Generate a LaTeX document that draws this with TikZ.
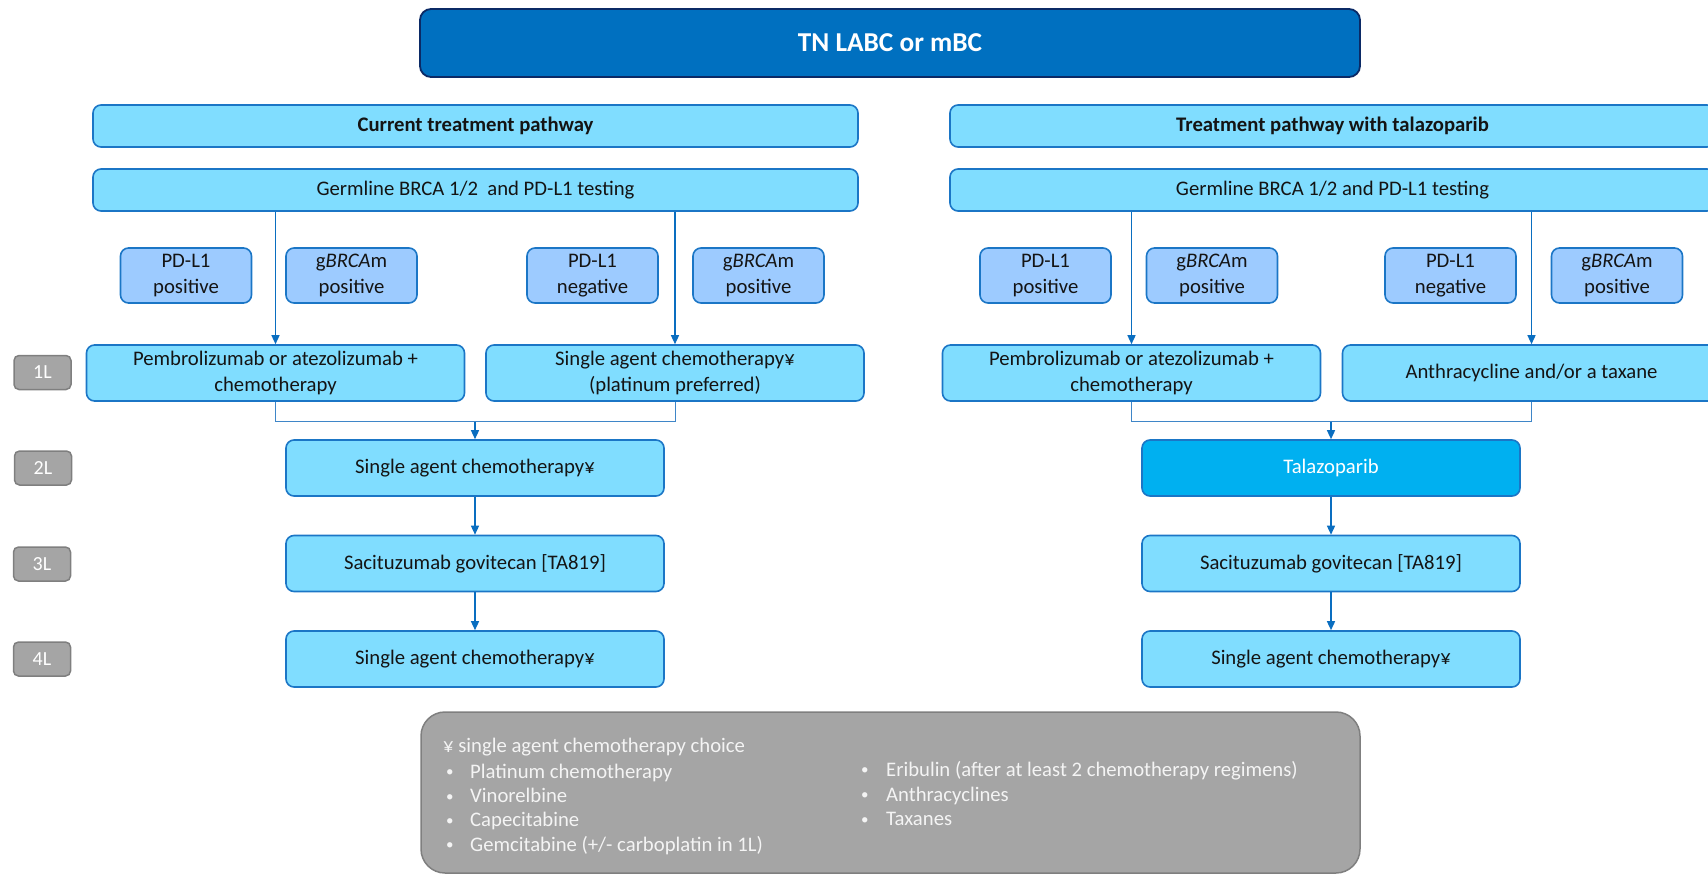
\documentclass[tikz,border=0pt]{standalone}
\usepackage{fontspec}
\setmainfont{Carlito}
\usetikzlibrary{arrows.meta}
\definecolor{lb}{HTML}{80DDFF}
\definecolor{sb}{HTML}{9DCBFF}
\definecolor{bord}{HTML}{1B76C6}
\definecolor{titlef}{HTML}{0070C0}
\definecolor{titleb}{HTML}{0B2A66}
\definecolor{tala}{HTML}{00B0F0}
\definecolor{lnk}{HTML}{0A6EC0}
\definecolor{mrgc}{HTML}{3F86C8}
\definecolor{gf}{HTML}{A5A5A5}
\definecolor{gb}{HTML}{7F7F7F}
\definecolor{wt}{HTML}{F4F4F4}
\definecolor{txt}{HTML}{141414}
\newcommand{\bul}[1]{\makebox[#1][l]{\raisebox{0.12ex}{\fontsize{15}{15}\selectfont •}}}
\begin{document}
\begin{tikzpicture}[x=1pt,y=-1pt,
  bx/.style={draw=bord,fill=lb,line width=1.6pt,rounded corners=8pt,inner sep=0pt,align=center,text=txt,font=\fontsize{20.7}{26}\selectfont},
  sbx/.style={bx,fill=sb,minimum width=131pt,minimum height=55pt},
  wide/.style={bx,minimum width=765pt,minimum height=42pt},
  mid/.style={bx,minimum width=378pt,minimum height=56pt},
  lab/.style={draw=gb,fill=gf,line width=1.5pt,rounded corners=5pt,inner sep=0pt,text=white,minimum width=57pt,minimum height=34pt,font=\fontsize{20}{23}\selectfont},
  arr/.style={draw=lnk,line width=1.4pt,-{Triangle[length=9pt,width=8pt]}},
  mrg/.style={draw=mrgc,line width=0.9pt},
  nt/.style={inner sep=0pt,anchor=base west,text=wt,font=\fontsize{20.7}{24}\selectfont}
]
\useasboundingbox (0,0) rectangle (1708,875);

% title
\node[draw=titleb,fill=titlef,line width=1.8pt,rounded corners=11pt,minimum width=940pt,minimum height=68pt,text=white,font=\fontsize{27.3}{30}\selectfont\bfseries] (title) at (890,43) {TN LABC or mBC};

% headers
\node[wide] (curL) at (475.5,126) {\textbf{Current treatment pathway}};
\node[wide] (curR) at (1332.5,126) {\textbf{Treatment pathway with talazoparib}};
\node[wide] (gerL) at (475.5,190) {Germline BRCA 1/2\ \ and PD-L1 testing};
\node[wide] (gerR) at (1332.5,190) {Germline BRCA 1/2 and PD-L1 testing};

% small boxes
\node[sbx] (aL) at (186,275.5) {PD-L1\\positive};
\node[sbx] (bL) at (351.5,275.5) {g\textit{BRCA}m\\positive};
\node[sbx] (cL) at (592.5,275.5) {PD-L1\\negative};
\node[sbx] (dL) at (758.5,275.5) {g\textit{BRCA}m\\positive};
\node[sbx] (aR) at (1045.5,275.5) {PD-L1\\positive};
\node[sbx] (bR) at (1212,275.5) {g\textit{BRCA}m\\positive};
\node[sbx] (cR) at (1450.5,275.5) {PD-L1\\negative};
\node[sbx] (dR) at (1617,275.5) {g\textit{BRCA}m\\positive};

% 1L
\node[mid] (pembL) at (275.5,373) {Pembrolizumab or atezolizumab +\\chemotherapy};
\node[mid] (chemL) at (675,373) {Single agent chemotherapy¥\\(platinum preferred)};
\node[mid] (pembR) at (1131.5,373) {Pembrolizumab or atezolizumab +\\chemotherapy};
\node[mid] (anthR) at (1531.5,373) {Anthracycline and/or a taxane};

% later lines
\node[mid] (s2L) at (475,468) {Single agent chemotherapy¥};
\node[mid] (s3L) at (475,563.5) {Sacituzumab govitecan [TA819]};
\node[mid] (s4L) at (475,659) {Single agent chemotherapy¥};
\node[mid,fill=tala,text=white] (s2R) at (1331,468) {Talazoparib};
\node[mid] (s3R) at (1331,563.5) {Sacituzumab govitecan [TA819]};
\node[mid] (s4R) at (1331,659) {Single agent chemotherapy¥};

% line labels
\node[lab] (l1) at (42.5,372.5) {1L};
\node[lab] (l2) at (43,468) {2L};
\node[lab] (l3) at (42,564) {3L};
\node[lab] (l4) at (42,659) {4L};

% connectors
\draw[arr] (gerL.south -| pembL.north) -- (pembL.north);
\draw[arr] (gerL.south -| chemL.north) -- (chemL.north);
\draw[arr] (gerR.south -| pembR.north) -- (pembR.north);
\draw[arr] (gerR.south -| anthR.north) -- (anthR.north);

\coordinate (mL) at (475,421.5);
\coordinate (mR) at (1331,421.5);
\draw[mrg] (pembL.south) |- (mL) -| (chemL.south);
\draw[mrg] (pembR.south) |- (mR) -| (anthR.south);
\draw[arr] (mL) -- (s2L.north);
\draw[arr] (mR) -- (s2R.north);
\draw[arr] (s2L.south) -- (s3L.north);
\draw[arr] (s3L.south) -- (s4L.north);
\draw[arr] (s2R.south) -- (s3R.north);
\draw[arr] (s3R.south) -- (s4R.north);

% note box
\node[draw=gb,fill=gf,line width=1.5pt,rounded corners=24pt,minimum width=939pt,minimum height=161pt,inner sep=0pt] (note) at (890.5,792.5) {};
\node[nt] (n0) at (443,752.5) {¥ single agent chemotherapy choice};
\node[nt] (n1) at (446,778) {\bul{24pt}Platinum chemotherapy};
\node[nt] (n2) at (446,802.5) {\bul{24pt}Vinorelbine};
\node[nt] (n3) at (446,826.5) {\bul{24pt}Capecitabine};
\node[nt] (n4) at (446,851) {\bul{24pt}Gemcitabine (+/- carboplatin in 1L)};
\node[nt] (m1) at (861,776) {\bul{25pt}Eribulin (after at least 2 chemotherapy regimens)};
\node[nt] (m2) at (861,801) {\bul{25pt}Anthracyclines};
\node[nt] (m3) at (861,825.5) {\bul{25pt}Taxanes};
\end{tikzpicture}
\end{document}
